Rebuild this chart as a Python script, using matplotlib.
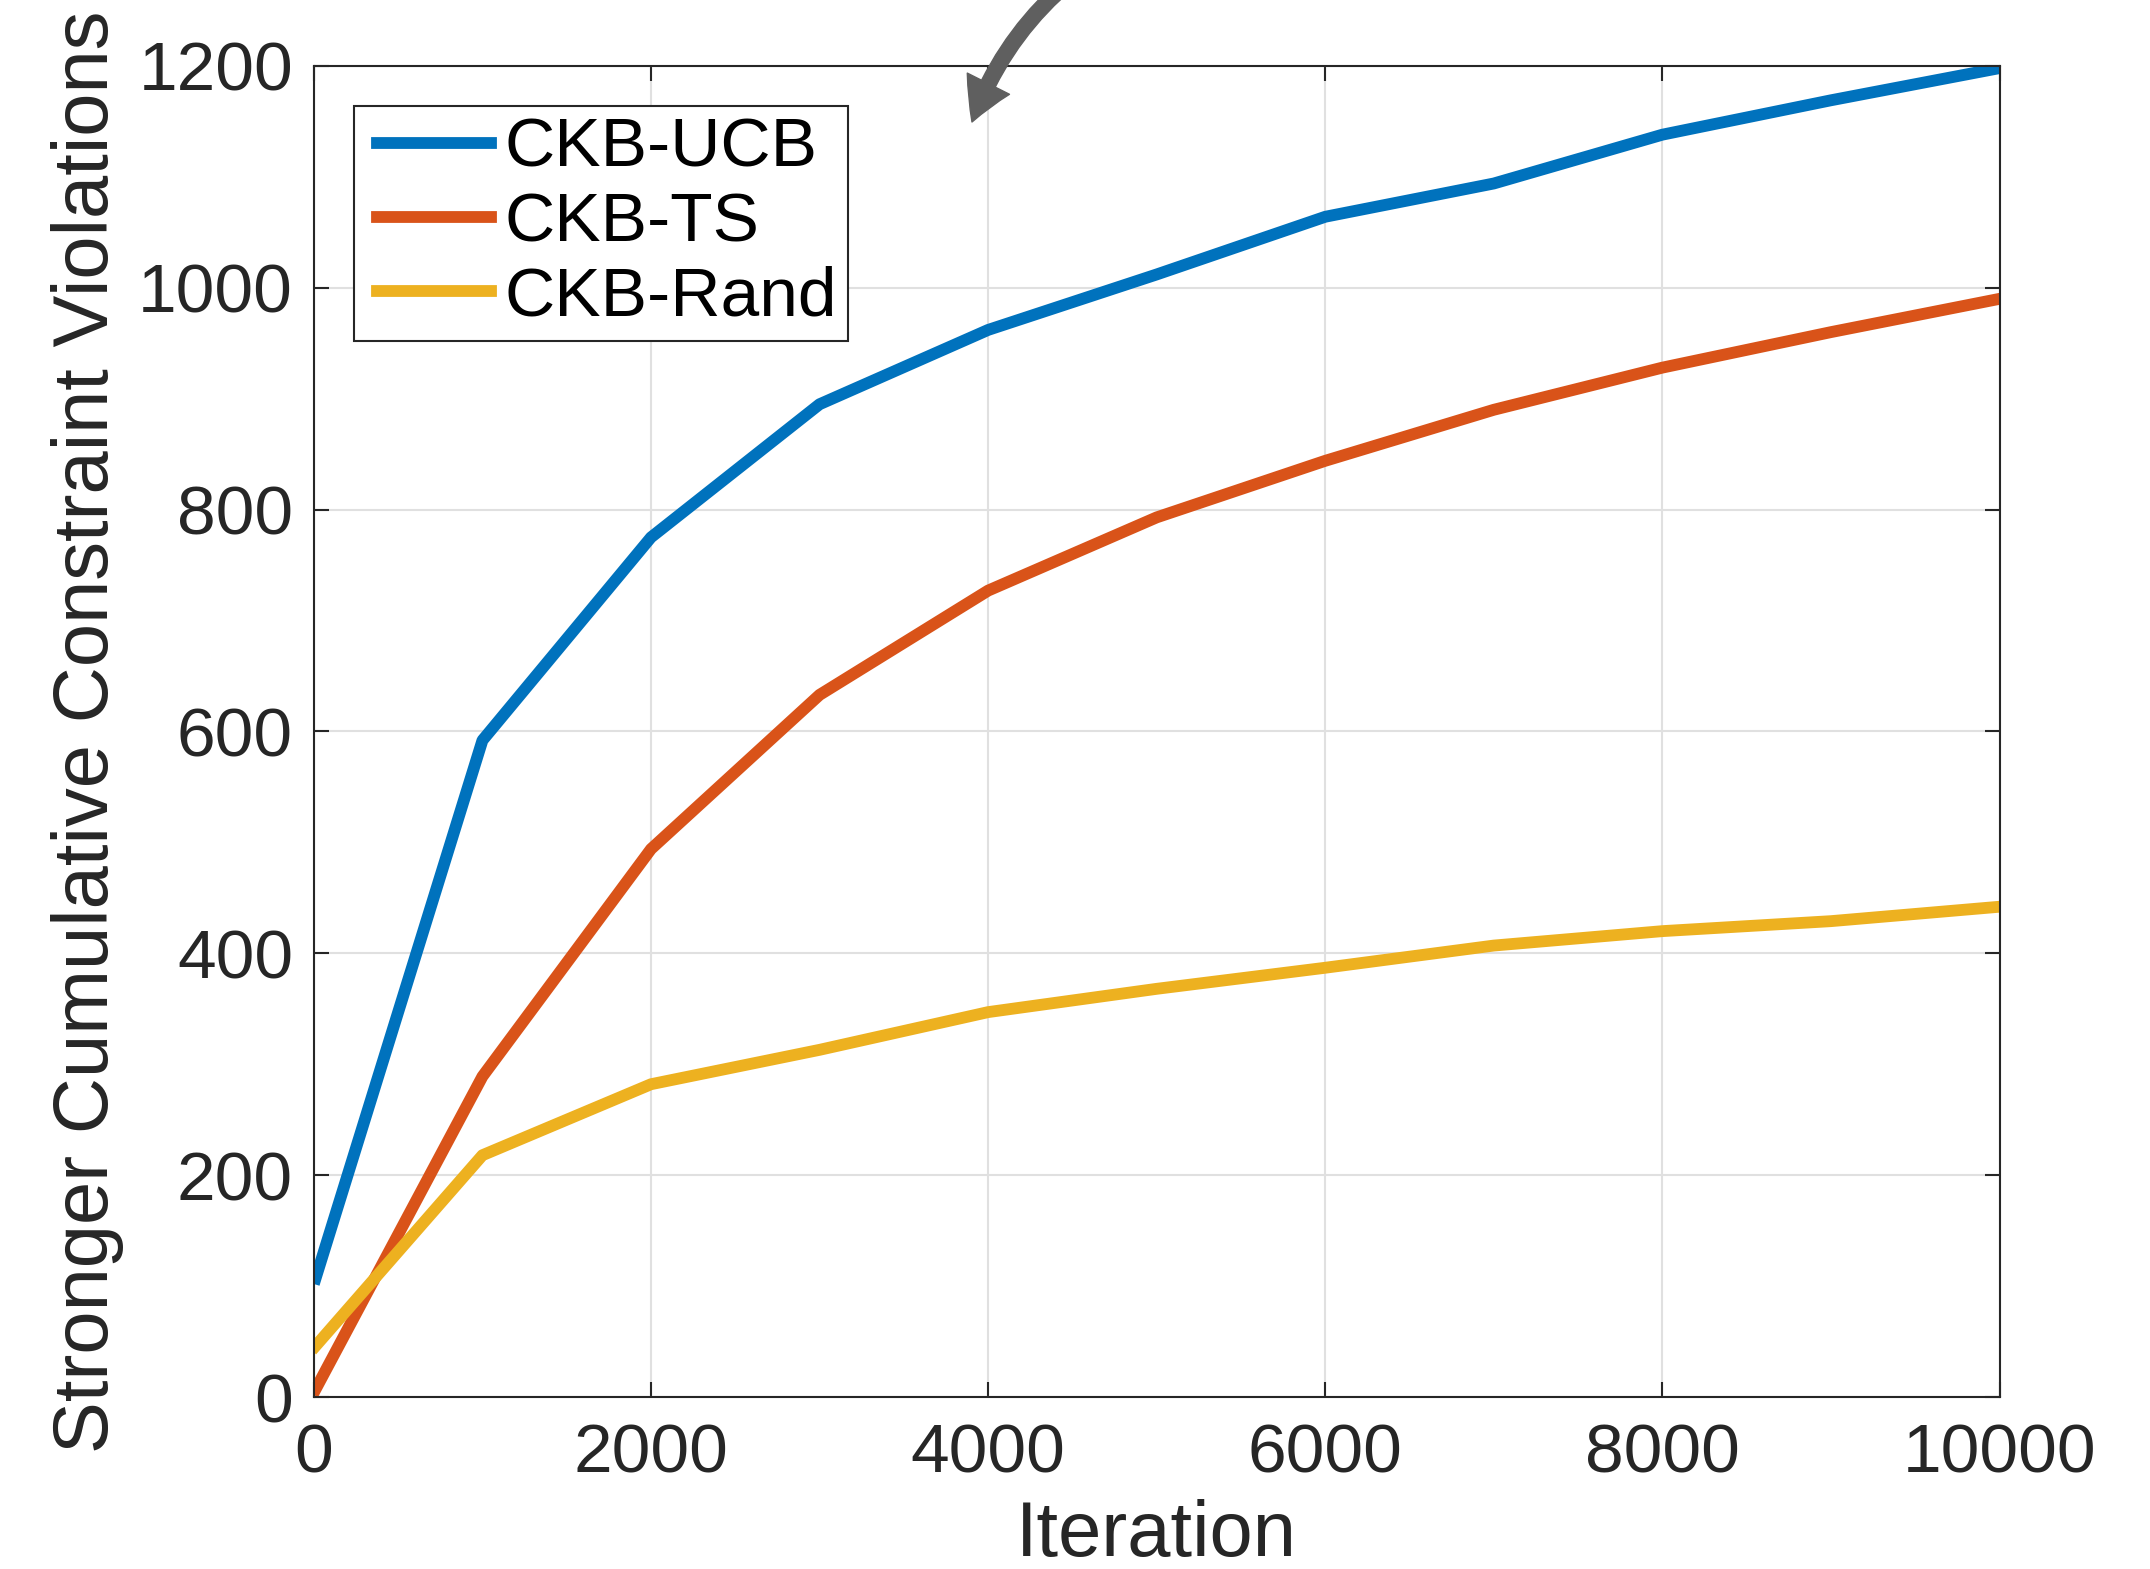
import matplotlib
matplotlib.use('Agg')
import matplotlib.pyplot as plt
from matplotlib.lines import Line2D
from matplotlib.legend_handler import HandlerLine2D

plt.rcParams['font.family'] = ['Liberation Sans', 'DejaVu Sans']

# Datos
iteraciones = [10, 1000, 2000, 3000, 4000, 5000, 6000, 7000, 8000, 9000, 10000]
ckb_ucb = [107, 592, 775, 895, 962, 1012, 1064, 1094, 1138, 1169, 1198]
ckb_ts = [7, 289, 494, 633, 727, 793, 844, 890, 928, 960, 990]
ckb_rand = [46, 218, 282, 313, 347, 368, 387, 407, 420, 429, 442]

x_ticks = [0, 2000, 4000, 6000, 8000, 10000]
y_ticks = [0, 200, 400, 600, 800, 1000, 1200]

color_eje = '#262626'

fig = plt.figure(figsize=(21.5, 15.69), dpi=100)
ax = fig.add_axes([0.146, 0.1096, 0.784, 0.8484])

ax.plot(iteraciones, ckb_ucb, color='#0072BD', linewidth=8.5, label='CKB-UCB')
ax.plot(iteraciones, ckb_ts, color='#D95319', linewidth=8.5, label='CKB-TS')
ax.plot(iteraciones, ckb_rand, color='#EDB120', linewidth=8.5, label='CKB-Rand')

ax.set_xlim(0, 10000)
ax.set_ylim(0, 1200)
ax.set_xticks(x_ticks)
ax.set_yticks(y_ticks)

ax.grid(True, color='#e0e0e0', linewidth=1.5)
ax.set_axisbelow(True)

for lado in ax.spines.values():
    lado.set_color(color_eje)
    lado.set_linewidth(1.5)

ax.tick_params(axis='both', direction='in', length=11, width=1.5,
               color=color_eje, labelcolor=color_eje, labelsize=50,
               top=True, right=True)
ax.tick_params(axis='x', pad=18)
ax.tick_params(axis='y', pad=15)

ax.set_xlabel('Iteration', fontsize=56, color=color_eje, labelpad=9)
ax.set_ylabel('Stronger Cumulative Constraint Violations', fontsize=56,
              color=color_eje, labelpad=10)

leg = ax.legend(loc='upper left', bbox_to_anchor=(0.0237, 0.970),
                borderaxespad=0, fontsize=50, handlelength=1.81,
                handletextpad=0.2, labelspacing=0.15, borderpad=0.16,
                fancybox=False, framealpha=1, edgecolor=color_eje,
                handler_map={Line2D: HandlerLine2D(xpad=0.17)})
leg.get_frame().set_linewidth(1.5)
for texto in leg.get_texts():
    texto.set_color('black')

# Flecha curva que entra desde arriba
ax.annotate('', xy=(972, 1447), xycoords='figure pixels',
            xytext=(1085, 1600), textcoords='figure pixels',
            annotation_clip=False,
            arrowprops=dict(arrowstyle='simple,head_length=3.0,head_width=3.4,tail_width=1.1',
                            mutation_scale=10, color='#5f5f5f',
                            connectionstyle='arc3,rad=0.15', shrinkA=0, shrinkB=0))

plt.savefig('out.png', dpi=100)
plt.close()
